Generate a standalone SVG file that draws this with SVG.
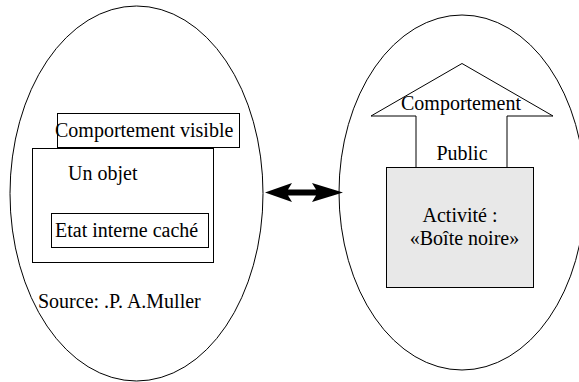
<svg xmlns="http://www.w3.org/2000/svg" width="579" height="382" viewBox="0 0 579 382">
<style>
.ln{fill:none;stroke:#000;stroke-width:1}
.bx{fill:#fff;stroke:#000;stroke-width:1}
.t{font-family:'Liberation Serif','Times New Roman',Times,serif;font-size:20px;fill:#000}
</style>
<rect width="579" height="382" fill="#fff"/>
<g id="left-ellipse"><ellipse cx="136.5" cy="193.5" rx="126.5" ry="187.5" class="ln"/></g>
<g id="right-ellipse"><ellipse cx="462" cy="192.5" rx="123" ry="177.5" class="ln"/></g>
<g id="comportement-visible">
<rect x="57.5" y="113.5" width="182" height="34" class="bx"/>
<text class="t" x="55" y="137" font-family="Liberation Serif, serif">Comportement visible</text>
</g>
<g id="un-objet">
<rect x="32.5" y="148.5" width="181" height="114" class="bx"/>
<text class="t" x="68" y="180" font-family="Liberation Serif, serif">Un objet</text>
</g>
<g id="etat-interne">
<rect x="51.5" y="213.5" width="157" height="34" class="bx"/>
<text class="t" x="55" y="237" font-family="Liberation Serif, serif">Etat interne caché</text>
</g>
<g id="source"><text class="t" x="38" y="308" font-family="Liberation Serif, serif">Source: .P. A.Muller</text></g>
<g id="comportement-public">
<polygon points="462,63.5 553,116 507,116 507,167.5 416,167.5 416,116 371,116" class="bx"/>
<text class="t" x="461" y="110" text-anchor="middle" font-family="Liberation Serif, serif">Comportement</text>
<text class="t" x="462" y="160" text-anchor="middle" font-family="Liberation Serif, serif">Public</text>
</g>
<g id="activite">
<rect x="386.5" y="167.5" width="147" height="120" fill="#e8e8e8" stroke="#000"/>
<text class="t" x="460" y="222" text-anchor="middle" font-family="Liberation Serif, serif">Activité :</text>
<text class="t" x="464.5" y="245" text-anchor="middle" font-family="Liberation Serif, serif">«Boîte noire»</text>
</g>
<g id="connectors">
<polygon points="265,192.5 292,183 288,189.5 316,189.5 312,183 343,192.5 312,202 316,195.5 288,195.5 292,202" fill="#000"/>
</g>
</svg>
